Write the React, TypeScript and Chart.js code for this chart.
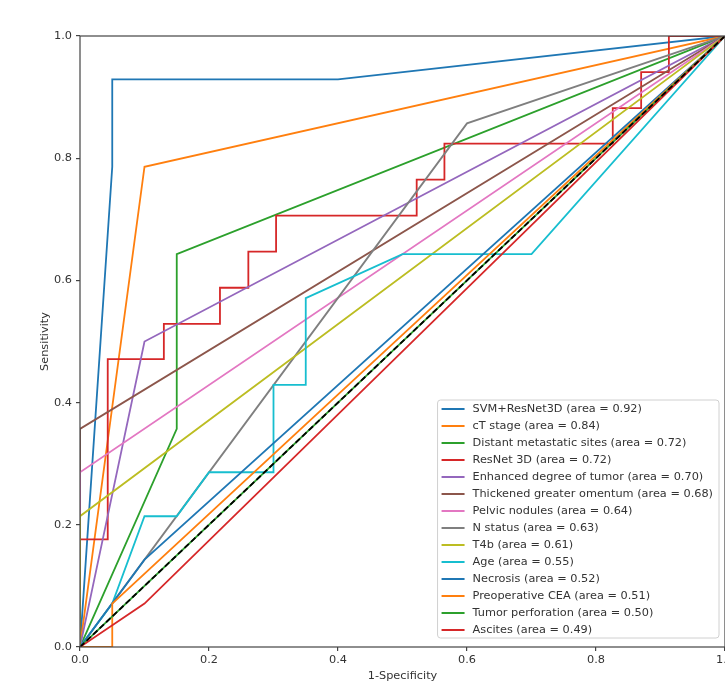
import React, { useEffect, useRef } from "react";
import { Chart, registerables } from "chart.js";

Chart.register(...registerables);

// ---- Data ----
const seriesNames = [
  "SVM+ResNet3D (area = 0.92)",
  "cT stage (area = 0.84)",
  "Distant metastatic sites (area = 0.72)",
  "ResNet 3D (area = 0.72)",
  "Enhanced degree of tumor (area = 0.70)",
  "Thickened greater omentum (area = 0.68)",
  "Pelvic nodules (area = 0.64)",
  "N status (area = 0.63)",
  "T4b (area = 0.61)",
  "Age (area = 0.55)",
  "Necrosis (area = 0.52)",
  "Preoperative CEA (area = 0.51)",
  "Tumor perforation (area = 0.50)",
  "Ascites (area = 0.49)",
];

const svmFpr = [0, 0.05, 0.05, 0.4, 1];
const svmTpr = [0, 0.786, 0.929, 0.929, 1];

const ctStageFpr = [0, 0.1, 1];
const ctStageTpr = [0, 0.786, 1];

const distantFpr = [0, 0.15, 0.15, 1];
const distantTpr = [0, 0.357, 0.643, 1];

const resnetFpr = [0, 0, 0.043, 0.043, 0.13, 0.13, 0.217, 0.217, 0.261, 0.261, 0.304, 0.304, 0.522, 0.522, 0.565, 0.565, 0.826, 0.826, 0.87, 0.87, 0.913, 0.913, 1];
const resnetTpr = [0, 0.176, 0.176, 0.471, 0.471, 0.529, 0.529, 0.588, 0.588, 0.647, 0.647, 0.706, 0.706, 0.765, 0.765, 0.824, 0.824, 0.882, 0.882, 0.941, 0.941, 1, 1];

const enhancedFpr = [0, 0.1, 1];
const enhancedTpr = [0, 0.5, 1];

const omentumFpr = [0, 0, 1];
const omentumTpr = [0, 0.357, 1];

const pelvicFpr = [0, 0, 1];
const pelvicTpr = [0, 0.286, 1];

const nStatusFpr = [0, 0.1, 0.6, 1];
const nStatusTpr = [0, 0.143, 0.857, 1];

const t4bFpr = [0, 0, 1];
const t4bTpr = [0, 0.214, 1];

const ageFpr = [0, 0.05, 0.1, 0.15, 0.2, 0.3, 0.3, 0.35, 0.35, 0.5, 0.7, 1];
const ageTpr = [0, 0.071, 0.214, 0.214, 0.286, 0.286, 0.429, 0.429, 0.571, 0.643, 0.643, 1];

const necrosisFpr = [0, 0.1, 1];
const necrosisTpr = [0, 0.143, 1];

const ceaFpr = [0, 0.05, 0.05, 1];
const ceaTpr = [0, 0, 0.071, 1];

const perforationFpr = [0, 1];
const perforationTpr = [0, 1];

const ascitesFpr = [0, 0.1, 1];
const ascitesTpr = [0, 0.071, 1];

const chanceFpr = [0, 1];
const chanceTpr = [0, 1];

const axisTicks = [0, 0.2, 0.4, 0.6, 0.8, 1.0];

const seriesFpr = [svmFpr, ctStageFpr, distantFpr, resnetFpr, enhancedFpr, omentumFpr, pelvicFpr, nStatusFpr, t4bFpr, ageFpr, necrosisFpr, ceaFpr, perforationFpr, ascitesFpr];
const seriesTpr = [svmTpr, ctStageTpr, distantTpr, resnetTpr, enhancedTpr, omentumTpr, pelvicTpr, nStatusTpr, t4bTpr, ageTpr, necrosisTpr, ceaTpr, perforationTpr, ascitesTpr];

const palette = ["#1f77b4", "#ff7f0e", "#2ca02c", "#d62728", "#9467bd", "#8c564b", "#e377c2", "#7f7f7f", "#bcbd22", "#17becf"];

const FONT = "'DejaVu Sans', sans-serif";
const FONT_SIZE = 11.3;

const toPoints = (xs: number[], ys: number[]) => xs.map((x, i) => ({ x, y: ys[i] }));

const framePlugin = {
  id: "frame",
  afterDraw(chart: any) {
    const { ctx, chartArea } = chart;
    ctx.save();
    ctx.strokeStyle = "#444";
    ctx.lineWidth = 1.2;
    ctx.strokeRect(chartArea.left, chartArea.top, chartArea.right - chartArea.left, chartArea.bottom - chartArea.top);

    // Legend (matplotlib style, lower right inside axes)
    ctx.font = `${FONT_SIZE}px ${FONT}`;
    let maxW = 0;
    seriesNames.forEach((t) => {
      maxW = Math.max(maxW, ctx.measureText(t).width);
    });
    const rowH = 17;
    const boxW = 35 + maxW + 6;
    const boxH = 9 + (seriesNames.length - 1) * rowH + 8;
    const right = chartArea.right - 6;
    const bottom = chartArea.bottom - 9;
    const left = right - boxW;
    const top = bottom - boxH;
    ctx.beginPath();
    const r = 3;
    ctx.moveTo(left + r, top);
    ctx.lineTo(right - r, top);
    ctx.quadraticCurveTo(right, top, right, top + r);
    ctx.lineTo(right, bottom - r);
    ctx.quadraticCurveTo(right, bottom, right - r, bottom);
    ctx.lineTo(left + r, bottom);
    ctx.quadraticCurveTo(left, bottom, left, bottom - r);
    ctx.lineTo(left, top + r);
    ctx.quadraticCurveTo(left, top, left + r, top);
    ctx.closePath();
    ctx.fillStyle = "rgba(255,255,255,0.85)";
    ctx.fill();
    ctx.strokeStyle = "#d0d0d0";
    ctx.lineWidth = 1;
    ctx.stroke();

    ctx.textBaseline = "middle";
    ctx.textAlign = "left";
    seriesNames.forEach((t, i) => {
      const y = top + 9 + i * rowH;
      ctx.strokeStyle = palette[i % palette.length];
      ctx.lineWidth = 2;
      ctx.beginPath();
      ctx.moveTo(left + 4, y);
      ctx.lineTo(left + 27, y);
      ctx.stroke();
      ctx.fillStyle = "#333";
      ctx.fillText(t, left + 35, y + 0.5);
    });
    ctx.restore();
  },
};

export default function App() {
  const canvasRef = useRef<HTMLCanvasElement | null>(null);

  useEffect(() => {
    const canvas = canvasRef.current;
    if (!canvas) return;
    const n = seriesNames.length;
    const datasets: any[] = seriesNames.map((name, i) => ({
      label: name,
      data: toPoints(seriesFpr[i], seriesTpr[i]),
      borderColor: palette[i % palette.length],
      backgroundColor: palette[i % palette.length],
      borderWidth: 1.8,
      pointRadius: 0,
      showLine: true,
      fill: false,
      tension: 0,
      order: n + 1 - i,
    }));
    datasets.push({
      label: "chance",
      data: toPoints(chanceFpr, chanceTpr),
      borderColor: "#000",
      borderWidth: 1.8,
      borderDash: [6, 3],
      pointRadius: 0,
      showLine: true,
      fill: false,
      order: 0,
    });

    const chart = new Chart(canvas, {
      type: "scatter",
      data: { datasets },
      options: {
        animation: false,
        responsive: false,
        maintainAspectRatio: false,
        layout: { padding: { left: 0, right: 35, top: 36, bottom: 0 } },
        plugins: {
          legend: { display: false },
          tooltip: { enabled: false },
        },
        scales: {
          x: {
            type: "linear",
            min: 0,
            max: 1,
            afterFit: (scale: any) => {
              scale.height = 41;
            },
            afterBuildTicks: (scale: any) => {
              scale.ticks = axisTicks.map((v) => ({ value: v }));
            },
            ticks: {
              color: "#333",
              font: { family: FONT, size: FONT_SIZE },
              padding: 2,
              maxRotation: 0,
              callback: (v: any) => Number(v).toFixed(1),
            },
            grid: { display: true, drawOnChartArea: false, drawTicks: true, tickLength: 4, color: "#444", lineWidth: 1.2 },
            border: { display: false },
            title: {
              display: true,
              text: "1-Specificity",
              color: "#333",
              font: { family: FONT, size: FONT_SIZE },
              padding: { top: 0, bottom: 5 },
            },
          },
          y: {
            type: "linear",
            min: 0,
            max: 1,
            afterFit: (scale: any) => {
              scale.width = 80;
            },
            afterBuildTicks: (scale: any) => {
              scale.ticks = axisTicks.map((v) => ({ value: v }));
            },
            ticks: {
              color: "#333",
              font: { family: FONT, size: FONT_SIZE },
              padding: 4,
              callback: (v: any) => Number(v).toFixed(1),
            },
            grid: { display: true, drawOnChartArea: false, drawTicks: true, tickLength: 4, color: "#444", lineWidth: 1.2 },
            border: { display: false },
            title: {
              display: true,
              text: "Sensitivity",
              color: "#333",
              font: { family: FONT, size: FONT_SIZE },
              padding: { top: 38, bottom: 0 },
            },
          },
        },
      },
      plugins: [framePlugin],
    });
    return () => chart.destroy();
  }, []);

  return (
    <div style={{ position: "fixed", left: 0, top: 0, width: 725, height: 688, overflow: "hidden", background: "#fff" }}>
      <canvas ref={canvasRef} width={760} height={688} style={{ display: "block", width: 760, height: 688 }} />
    </div>
  );
}
